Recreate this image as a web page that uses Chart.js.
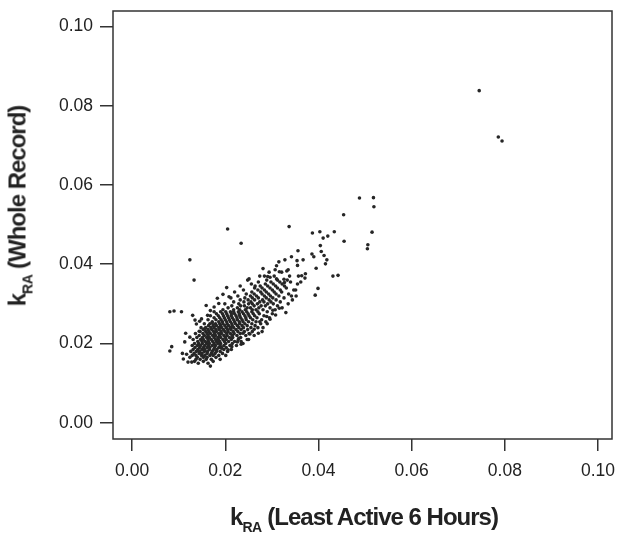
<!DOCTYPE html>
<html>
<head>
<meta charset="utf-8">
<script src="https://cdn.jsdelivr.net/npm/chart.js@4.4.1/dist/chart.umd.min.js"></script>
<style>
body { margin: 0; background: #fff; }
#wrap { position: relative; width: 618px; height: 535px; font-family: "Liberation Sans", Arial, sans-serif; color: #222; }
.ttl { position: absolute; font-weight: bold; font-size: 24px; line-height: 24px; letter-spacing: -1px; white-space: nowrap; }
.ttl span { font-size: 14px; position: relative; top: 7px; letter-spacing: -0.5px; }
#xTitle { left: 364px; top: 505px; transform: translateX(-50%); }
#yTitle { left: 19px; top: 206px; transform: translate(-50%, -50%) rotate(-90deg); }
</style>
</head>
<body>
<div id="wrap">
    <canvas id="chart" width="618" height="535"></canvas>
    <div class="ttl" id="xTitle">k<span>RA</span> (Least Active 6 Hours)</div>
    <div class="ttl" id="yTitle">k<span>RA</span> (Whole Record)</div>
</div>
<script>
/* tick values for both axes */
const tickVals = [0.00, 0.02, 0.04, 0.06, 0.08, 0.10];

/* main cluster, read row by row: y value and the x values on that row */
const rowY = [0.0150, 0.0155, 0.0160, 0.0165, 0.0170, 0.0175, 0.0180, 0.0185, 0.0190, 0.0195,
              0.0200, 0.0205, 0.0210, 0.0215, 0.0220, 0.0225, 0.0230, 0.0235, 0.0240, 0.0245,
              0.0250, 0.0255, 0.0260, 0.0265, 0.0270, 0.0275, 0.0280, 0.0285, 0.0290, 0.0295,
              0.0300, 0.0305, 0.0310, 0.0315, 0.0320, 0.0325, 0.0330, 0.0335, 0.0340, 0.0345,
              0.0350, 0.0355, 0.0360, 0.0370, 0.0380];
const rowX = [
    [0.0142, 0.0163],
    [0.0134, 0.0153, 0.0174],
    [0.0137, 0.0146, 0.0159, 0.0170, 0.0189],
    [0.0124, 0.0140, 0.0153, 0.0161, 0.0180],
    [0.0129, 0.0137, 0.0149, 0.0156, 0.0167, 0.0174, 0.0186, 0.0201],
    [0.0133, 0.0144, 0.0150, 0.0161, 0.0170, 0.0178, 0.0194],
    [0.0126, 0.0138, 0.0145, 0.0155, 0.0162, 0.0172, 0.0181, 0.0189, 0.0205],
    [0.0131, 0.0141, 0.0150, 0.0156, 0.0166, 0.0175, 0.0182, 0.0197, 0.0213],
    [0.0135, 0.0145, 0.0153, 0.0161, 0.0167, 0.0177, 0.0186, 0.0192, 0.0202],
    [0.0140, 0.0147, 0.0156, 0.0164, 0.0172, 0.0179, 0.0189, 0.0197, 0.0210, 0.0224],
    [0.0134, 0.0143, 0.0151, 0.0160, 0.0166, 0.0176, 0.0184, 0.0190, 0.0201, 0.0215, 0.0238],
    [0.0141, 0.0150, 0.0157, 0.0164, 0.0173, 0.0181, 0.0188, 0.0198, 0.0207, 0.0220, 0.0234],
    [0.0131, 0.0147, 0.0153, 0.0163, 0.0170, 0.0179, 0.0185, 0.0195, 0.0202, 0.0213, 0.0228, 0.0250],
    [0.0139, 0.0151, 0.0160, 0.0166, 0.0176, 0.0184, 0.0190, 0.0200, 0.0209, 0.0216, 0.0233],
    [0.0144, 0.0155, 0.0163, 0.0173, 0.0179, 0.0188, 0.0197, 0.0204, 0.0215, 0.0225, 0.0244, 0.0262],
    [0.0136, 0.0152, 0.0161, 0.0168, 0.0177, 0.0186, 0.0192, 0.0203, 0.0211, 0.0219, 0.0232, 0.0251],
    [0.0146, 0.0158, 0.0165, 0.0175, 0.0181, 0.0191, 0.0199, 0.0206, 0.0217, 0.0227, 0.0241, 0.0258, 0.0279],
    [0.0153, 0.0163, 0.0171, 0.0180, 0.0187, 0.0196, 0.0205, 0.0212, 0.0223, 0.0234, 0.0248],
    [0.0148, 0.0158, 0.0169, 0.0176, 0.0186, 0.0192, 0.0202, 0.0211, 0.0218, 0.0229, 0.0239, 0.0255, 0.0270],
    [0.0164, 0.0174, 0.0181, 0.0190, 0.0199, 0.0207, 0.0215, 0.0226, 0.0236, 0.0247, 0.0264],
    [0.0155, 0.0167, 0.0179, 0.0188, 0.0195, 0.0204, 0.0214, 0.0222, 0.0231, 0.0242, 0.0257, 0.0276],
    [0.0172, 0.0186, 0.0194, 0.0203, 0.0211, 0.0220, 0.0230, 0.0238, 0.0250, 0.0266, 0.0287],
    [0.0163, 0.0180, 0.0191, 0.0200, 0.0209, 0.0218, 0.0226, 0.0236, 0.0245, 0.0259, 0.0278],
    [0.0176, 0.0188, 0.0198, 0.0207, 0.0215, 0.0225, 0.0233, 0.0244, 0.0254, 0.0268, 0.0295],
    [0.0168, 0.0185, 0.0196, 0.0205, 0.0213, 0.0223, 0.0231, 0.0242, 0.0251, 0.0263, 0.0283],
    [0.0181, 0.0194, 0.0203, 0.0213, 0.0220, 0.0230, 0.0239, 0.0249, 0.0260, 0.0273, 0.0301],
    [0.0176, 0.0190, 0.0201, 0.0211, 0.0218, 0.0228, 0.0236, 0.0246, 0.0257, 0.0270, 0.0290],
    [0.0195, 0.0218, 0.0231, 0.0243, 0.0258, 0.0266, 0.0281, 0.0307],
    [0.0206, 0.0226, 0.0247, 0.0254, 0.0272, 0.0296, 0.0322],
    [0.0214, 0.0233, 0.0241, 0.0262, 0.0277, 0.0286, 0.0312],
    [0.0199, 0.0229, 0.0250, 0.0258, 0.0269, 0.0291, 0.0303, 0.0335],
    [0.0218, 0.0240, 0.0255, 0.0274, 0.0283, 0.0298, 0.0318],
    [0.0232, 0.0249, 0.0263, 0.0280, 0.0294, 0.0309, 0.0344],
    [0.0212, 0.0242, 0.0258, 0.0271, 0.0288, 0.0302, 0.0326],
    [0.0227, 0.0254, 0.0267, 0.0284, 0.0297, 0.0315, 0.0352],
    [0.0245, 0.0262, 0.0279, 0.0293, 0.0309, 0.0336],
    [0.0220, 0.0257, 0.0276, 0.0288, 0.0305, 0.0321],
    [0.0239, 0.0270, 0.0284, 0.0301, 0.0318, 0.0347],
    [0.0263, 0.0279, 0.0296, 0.0312, 0.0331],
    [0.0232, 0.0275, 0.0291, 0.0308, 0.0327],
    [0.0256, 0.0286, 0.0303, 0.0322, 0.0355],
    [0.0271, 0.0298, 0.0317, 0.0340],
    [0.0248, 0.0289, 0.0312, 0.0333],
    [0.0284, 0.0305, 0.0338],
    [0.0294, 0.0321]
];

/* scattered points away from the dense core */
const strayX = [0.0745, 0.0786, 0.0794, 0.0488, 0.0518, 0.0519, 0.0454, 0.0337, 0.0387, 0.0403,
                0.0434, 0.0420, 0.0410, 0.0515, 0.0455, 0.0506, 0.0505, 0.0234, 0.0404, 0.0406,
                0.0356, 0.0386, 0.0390, 0.0412, 0.0418, 0.0415, 0.0395, 0.0342, 0.0328, 0.0354,
                0.0367, 0.0355, 0.0315, 0.0310, 0.0307, 0.0332, 0.0281, 0.0372, 0.0371, 0.0357,
                0.0362, 0.0431, 0.0442, 0.0399, 0.0393, 0.0251, 0.0274, 0.0296, 0.0326, 0.0327,
                0.0351, 0.0342, 0.0330, 0.0124, 0.0133, 0.0205, 0.0203, 0.0264, 0.0081, 0.0090,
                0.0106, 0.0130, 0.0135, 0.0145, 0.0085, 0.0081, 0.0168, 0.0120, 0.0128,
                0.0115, 0.0124, 0.0113, 0.0129, 0.0108, 0.0117, 0.0110,
                0.0238, 0.0253, 0.0271, 0.0226, 0.0214, 0.0206, 0.0192, 0.0274, 0.0289,
                0.0335, 0.0316, 0.0291, 0.0310, 0.0364,
                0.0138, 0.0149, 0.0156, 0.0162, 0.0168, 0.0176, 0.0159, 0.0186, 0.0172, 0.0144,
                0.0183, 0.0195, 0.0208,
                0.0247, 0.0262, 0.0281, 0.0296, 0.0308, 0.0234, 0.0229, 0.0290, 0.0316, 0.0302];
const strayY = [0.0838, 0.0721, 0.0711, 0.0567, 0.0568, 0.0545, 0.0525, 0.0495, 0.0479, 0.0482,
                0.0482, 0.0471, 0.0466, 0.0481, 0.0458, 0.0449, 0.0439, 0.0453, 0.0447, 0.0432,
                0.0434, 0.0426, 0.0419, 0.0422, 0.0411, 0.0401, 0.0390, 0.0419, 0.0411, 0.0409,
                0.0411, 0.0397, 0.0406, 0.0396, 0.0386, 0.0383, 0.0389, 0.0376, 0.0365, 0.0370,
                0.0355, 0.0370, 0.0372, 0.0339, 0.0322, 0.0363, 0.0370, 0.0367, 0.0362, 0.0354,
                0.0335, 0.0320, 0.0278, 0.0411, 0.0360, 0.0489, 0.0341, 0.0345, 0.0280, 0.0282,
                0.0280, 0.0271, 0.0259, 0.0256, 0.0192, 0.0181, 0.0143, 0.0153, 0.0153,
                0.0226, 0.0216, 0.0204, 0.0195, 0.0175, 0.0173, 0.0161,
                0.0226, 0.0224, 0.0226, 0.0204, 0.0192, 0.0184, 0.0188, 0.0255, 0.0268,
                0.0386, 0.0381, 0.0369, 0.0363, 0.0371,
                0.0249, 0.0262, 0.0238, 0.0271, 0.0283, 0.0292, 0.0296, 0.0301, 0.0252, 0.0231,
                0.0314, 0.0324, 0.0318,
                0.0210, 0.0236, 0.0240, 0.0261, 0.0272, 0.0198, 0.0213, 0.0250, 0.0289, 0.0284];

const points = [];
rowY.forEach((y, i) => rowX[i].forEach(x => points.push({ x: x, y: y })));
strayX.forEach((x, i) => points.push({ x: x, y: strayY[i] }));

/* box round the plot area */
const frame = {
    id: "frame",
    afterDraw(chart) {
        const a = chart.chartArea, c = chart.ctx;
        c.save();
        c.strokeStyle = "#333";
        c.lineWidth = 1.5;
        c.strokeRect(a.left, a.top, a.right - a.left, a.bottom - a.top);
        c.restore();
    }
};

const fixTicks = scale => { scale.ticks = tickVals.map(v => ({ value: v })); };
const noPad = s => { s.paddingLeft = 0; s.paddingRight = 0; s.paddingTop = 0; s.paddingBottom = 0; };
const tickFont = { family: "'Liberation Sans', Arial, sans-serif", size: 17.5 };

new Chart(document.getElementById("chart"), {
    type: "scatter",
    data: {
        datasets: [{
            data: points,
            pointRadius: 1.8,
            pointBorderWidth: 0,
            pointBackgroundColor: "#262626",
            pointHoverRadius: 1.8
        }]
    },
    options: {
        responsive: false,
        animation: false,
        devicePixelRatio: 1,
        layout: { padding: { top: 11, right: 6, left: 0, bottom: 0 } },
        plugins: { legend: { display: false }, tooltip: { enabled: false } },
        scales: {
            x: {
                min: -0.0041, max: 0.103,
                afterBuildTicks: fixTicks,
                afterFit: s => { s.height = 96; noPad(s); },
                grid: { drawOnChartArea: false, tickLength: 12, tickColor: "#333", lineWidth: 1.5 },
                border: { display: false },
                ticks: { color: "#222", font: tickFont, padding: 10, maxRotation: 0,
                         callback: v => v.toFixed(2) }
            },
            y: {
                min: -0.0041, max: 0.1039,
                afterBuildTicks: fixTicks,
                afterFit: s => { s.width = 113; noPad(s); },
                grid: { drawOnChartArea: false, tickLength: 13, tickColor: "#333", lineWidth: 1.5 },
                border: { display: false },
                ticks: { color: "#222", font: tickFont, padding: 7,
                         callback: v => v.toFixed(2) }
            }
        }
    },
    plugins: [frame]
});
</script>
</body>
</html>
